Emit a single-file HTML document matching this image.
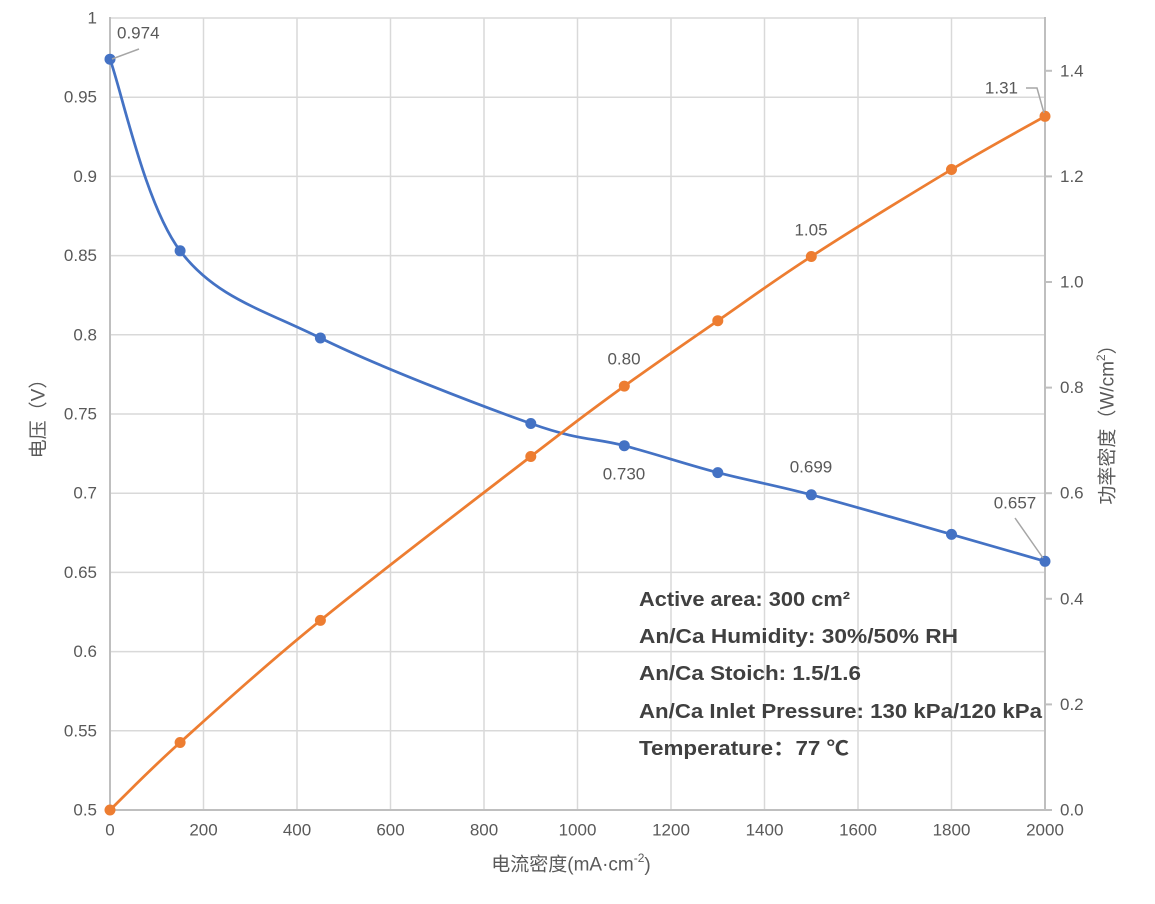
<!DOCTYPE html>
<html><head><meta charset="utf-8"><style>
html,body{margin:0;padding:0;background:#fff;}
svg{display:block;font-family:"Liberation Sans","Noto Sans CJK SC",sans-serif;}
</style></head><body>
<svg width="1155" height="904" viewBox="0 0 1155 904" xmlns="http://www.w3.org/2000/svg">
<rect width="1155" height="904" fill="#fff"/>
<g stroke="#d9d9d9" stroke-width="1.5">
<line x1="203.5" y1="18" x2="203.5" y2="810"/>
<line x1="297" y1="18" x2="297" y2="810"/>
<line x1="390.5" y1="18" x2="390.5" y2="810"/>
<line x1="484" y1="18" x2="484" y2="810"/>
<line x1="577.5" y1="18" x2="577.5" y2="810"/>
<line x1="671" y1="18" x2="671" y2="810"/>
<line x1="764.5" y1="18" x2="764.5" y2="810"/>
<line x1="858" y1="18" x2="858" y2="810"/>
<line x1="951.5" y1="18" x2="951.5" y2="810"/>
<line x1="110" y1="18" x2="1045" y2="18"/>
<line x1="110" y1="97.2" x2="1045" y2="97.2"/>
<line x1="110" y1="176.4" x2="1045" y2="176.4"/>
<line x1="110" y1="255.6" x2="1045" y2="255.6"/>
<line x1="110" y1="334.8" x2="1045" y2="334.8"/>
<line x1="110" y1="414" x2="1045" y2="414"/>
<line x1="110" y1="493.2" x2="1045" y2="493.2"/>
<line x1="110" y1="572.4" x2="1045" y2="572.4"/>
<line x1="110" y1="651.6" x2="1045" y2="651.6"/>
<line x1="110" y1="730.8" x2="1045" y2="730.8"/>
</g>
<g stroke="#bfbfbf" stroke-width="2">
<line x1="110" y1="17" x2="110" y2="811"/>
<line x1="1045" y1="17" x2="1045" y2="811"/>
<line x1="109" y1="810" x2="1046" y2="810"/>
<line x1="1045" y1="810" x2="1052" y2="810"/>
<line x1="1045" y1="704.4" x2="1052" y2="704.4"/>
<line x1="1045" y1="598.8" x2="1052" y2="598.8"/>
<line x1="1045" y1="493.2" x2="1052" y2="493.2"/>
<line x1="1045" y1="387.6" x2="1052" y2="387.6"/>
<line x1="1045" y1="282" x2="1052" y2="282"/>
<line x1="1045" y1="176.4" x2="1052" y2="176.4"/>
<line x1="1045" y1="70.8" x2="1052" y2="70.8"/>
</g>
<g fill="#595959" font-size="17" text-anchor="end" dominant-baseline="central">
<text x="97" y="18">1</text>
<text x="97" y="97.2">0.95</text>
<text x="97" y="176.4">0.9</text>
<text x="97" y="255.6">0.85</text>
<text x="97" y="334.8">0.8</text>
<text x="97" y="414">0.75</text>
<text x="97" y="493.2">0.7</text>
<text x="97" y="572.4">0.65</text>
<text x="97" y="651.6">0.6</text>
<text x="97" y="730.8">0.55</text>
<text x="97" y="810">0.5</text>
</g>
<g fill="#595959" font-size="17" text-anchor="start" dominant-baseline="central">
<text x="1060" y="810">0.0</text>
<text x="1060" y="704.4">0.2</text>
<text x="1060" y="598.8">0.4</text>
<text x="1060" y="493.2">0.6</text>
<text x="1060" y="387.6">0.8</text>
<text x="1060" y="282">1.0</text>
<text x="1060" y="176.4">1.2</text>
<text x="1060" y="70.8">1.4</text>
</g>
<g fill="#595959" font-size="17" text-anchor="middle" dominant-baseline="central">
<text x="110" y="830">0</text>
<text x="203.5" y="830">200</text>
<text x="297" y="830">400</text>
<text x="390.5" y="830">600</text>
<text x="484" y="830">800</text>
<text x="577.5" y="830">1000</text>
<text x="671" y="830">1200</text>
<text x="764.5" y="830">1400</text>
<text x="858" y="830">1600</text>
<text x="951.5" y="830">1800</text>
<text x="1045" y="830">2000</text>
</g>
<text x="571" y="865" fill="#595959" font-size="19" text-anchor="middle" dominant-baseline="central">电流密度(mA·cm<tspan font-size="12" dy="-7">-2</tspan><tspan dy="7">)</tspan></text>
<text transform="translate(39,414) rotate(-90)" fill="#595959" font-size="19" text-anchor="middle" dominant-baseline="central">电压（V）</text>
<text transform="translate(1108,420) rotate(-90)" fill="#595959" font-size="19" text-anchor="middle" dominant-baseline="central">功率密度（W/cm<tspan font-size="12" dy="-7">2</tspan><tspan dy="7">）</tspan></text>

<path fill="none" stroke="#4472c4" stroke-width="2.75" stroke-linejoin="round" d="M110,59.2 C121.7,91.1 145,204.3 180.1,250.8 C215.2,297.3 262,309.2 320.4,338 C378.9,366.8 480.1,405.6 530.8,423.5 C581.4,441.4 593.1,437.5 624.3,445.7 C655.5,453.9 686.6,464.4 717.8,472.6 C749,480.8 772.4,484.5 811.3,494.8 C850.3,505.1 912.6,523.3 951.5,534.4 C990.5,545.5 1029.4,556.8 1045,561.3"/>
<path fill="none" stroke="#ed7d31" stroke-width="2.75" stroke-linejoin="round" d="M110,810 C121.7,798.8 145,774.1 180.1,742.5 C215.2,710.9 262,668.1 320.4,620.4 C378.9,572.7 480.1,495.6 530.8,456.5 C581.5,417.5 593.1,408.7 624.3,386.1 C655.5,363.5 686.6,342.3 717.8,320.7 C749,299.1 772.4,281.7 811.3,256.5 C850.3,231.3 912.6,192.9 951.5,169.5 C990.5,146.1 1029.4,125.2 1045,116.3"/>
<g fill="#4472c4">
<circle cx="110" cy="59.2" r="5.5"/>
<circle cx="180.1" cy="250.8" r="5.5"/>
<circle cx="320.4" cy="338" r="5.5"/>
<circle cx="530.8" cy="423.5" r="5.5"/>
<circle cx="624.3" cy="445.7" r="5.5"/>
<circle cx="717.8" cy="472.6" r="5.5"/>
<circle cx="811.3" cy="494.8" r="5.5"/>
<circle cx="951.5" cy="534.4" r="5.5"/>
<circle cx="1045" cy="561.3" r="5.5"/>
</g>
<g fill="#ed7d31">
<circle cx="110" cy="810" r="5.5"/>
<circle cx="180.1" cy="742.5" r="5.5"/>
<circle cx="320.4" cy="620.4" r="5.5"/>
<circle cx="530.8" cy="456.5" r="5.5"/>
<circle cx="624.3" cy="386.1" r="5.5"/>
<circle cx="717.8" cy="320.7" r="5.5"/>
<circle cx="811.3" cy="256.5" r="5.5"/>
<circle cx="951.5" cy="169.5" r="5.5"/>
<circle cx="1045" cy="116.3" r="5.5"/>
</g>
<g stroke="#a6a6a6" stroke-width="1.5" fill="none">
<line x1="112" y1="59" x2="139" y2="49"/>
<polyline points="1026,88 1037,88 1044,113"/>
<line x1="1015" y1="518" x2="1043" y2="558"/>
</g>
<g fill="#595959" font-size="17" dominant-baseline="central">
<text x="117" y="33">0.974</text>
<text x="1018" y="88" text-anchor="end">1.31</text>
<text x="811" y="230" text-anchor="middle">1.05</text>
<text x="624" y="359" text-anchor="middle">0.80</text>
<text x="624" y="474" text-anchor="middle">0.730</text>
<text x="811" y="467" text-anchor="middle">0.699</text>
<text x="1015" y="503" text-anchor="middle">0.657</text>
</g>
<g fill="#404040" font-size="20" font-weight="bold" dominant-baseline="central" lengthAdjust="spacingAndGlyphs">
<text x="639" y="600" textLength="211" lengthAdjust="spacingAndGlyphs">Active area: 300 cm²</text>
<text x="639" y="637" textLength="319" lengthAdjust="spacingAndGlyphs">An/Ca Humidity: 30%/50% RH</text>
<text x="639" y="674" textLength="222" lengthAdjust="spacingAndGlyphs">An/Ca Stoich: 1.5/1.6</text>
<text x="639" y="712" textLength="403" lengthAdjust="spacingAndGlyphs">An/Ca Inlet Pressure: 130 kPa/120 kPa</text>
<text x="639" y="749" textLength="210" lengthAdjust="spacingAndGlyphs">Temperature：77 ℃</text>
</g>
</svg>
</body></html>
